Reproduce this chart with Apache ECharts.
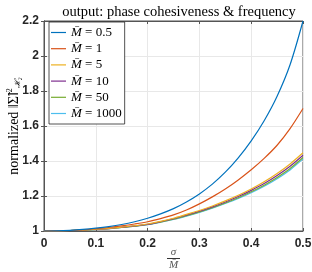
<!DOCTYPE html>
<html><head><meta charset="utf-8">
<script src="https://cdn.jsdelivr.net/npm/echarts@6/dist/echarts.min.js"></script>
<style>html,body{margin:0;padding:0;background:#fff}#c{width:312px;height:272px}</style>
</head><body><div id="c"></div>
<script>
var xs = [0,0.025,0.05,0.075,0.1,0.125,0.15,0.175,0.2,0.225,0.25,0.275,0.3,0.325,0.35,0.375,0.4,0.425,0.45,0.475,0.5];
var seriesNames = ['0.5','1','5','10','50','1000'];
var m05 = [1,1.001,1.004,1.009,1.016,1.025,1.037,1.053,1.073,1.098,1.128,1.166,1.212,1.268,1.336,1.418,1.515,1.63,1.77,1.95,2.2];
var m1 = [1,1.001,1.003,1.007,1.013,1.020,1.029,1.040,1.053,1.071,1.092,1.120,1.155,1.195,1.24,1.292,1.350,1.415,1.49,1.585,1.70];
var m5 = [1,1.001,1.003,1.006,1.010,1.015,1.022,1.030,1.040,1.055,1.073,1.095,1.117,1.143,1.172,1.204,1.240,1.281,1.328,1.383,1.447];
var m10 = [1,1.001,1.003,1.006,1.010,1.014,1.021,1.029,1.038,1.053,1.070,1.091,1.113,1.138,1.166,1.197,1.232,1.271,1.317,1.370,1.433];
var m50 = [1,1.001,1.003,1.005,1.009,1.014,1.020,1.028,1.037,1.051,1.067,1.087,1.109,1.133,1.160,1.190,1.224,1.262,1.306,1.357,1.420];
var m1000 = [1,1.001,1.003,1.005,1.009,1.013,1.020,1.027,1.036,1.050,1.066,1.085,1.106,1.130,1.157,1.186,1.219,1.256,1.299,1.349,1.412];
var xTicks = [0,0.1,0.2,0.3,0.4,0.5];
var yTicks = [1,1.2,1.4,1.6,1.8,2,2.2];
var colors = ['#0072BD','#D95319','#EDB120','#7E2F8E','#77AC30','#4DBEEE'];
var allY = [m05,m1,m5,m10,m50,m1000];

var chart = echarts.init(document.getElementById('c'), null, {renderer:'canvas'});
var axisCol = '#555';
var tickFont = {color:'#262626', fontFamily:'Liberation Sans', fontWeight:'bold', fontSize:12};
var series = allY.map(function(arr, i){
  return {
    name: seriesNames[i], type:'line', xAxisIndex:0, yAxisIndex:0,
    data: xs.map(function(x,j){return [x, arr[j]];}),
    symbol:'none', smooth:0.3, lineStyle:{width:1.2, color:colors[i]}, itemStyle:{color:colors[i]},
    z: 10 - i
  };
});
chart.setOption({
  animation:false,
  title:{text:'output: phase cohesiveness & frequency', left:174, textAlign:'center', top:0,
    textStyle:{fontFamily:'Liberation Serif', fontWeight:'normal', fontSize:14.5, color:'#000'}},
  grid:{left:44, right:9, top:21, bottom:41, show:true, borderColor:axisCol, borderWidth:1,
    containLabel:false, outerBoundsMode:'none'},
  legend:{left:49, top:22, orient:'vertical', itemWidth:15, itemHeight:12, itemGap:3.2,
    padding:[4,3,4,2], borderColor:'#262626', borderWidth:0.8, backgroundColor:'#fff',
    data: seriesNames, icon:'path://M0,0 L15,0 L15,1.2 L0,1.2 Z',
    formatter:function(n){return '{m|M\u0304} {t|= '+n+'}';},
    textStyle:{fontFamily:'Liberation Serif', fontSize:13, color:'#000',
      rich:{m:{fontFamily:'Liberation Serif', fontStyle:'italic', fontSize:13},
            t:{fontFamily:'Liberation Serif', fontSize:13}}}},
  xAxis:[{type:'value', min:0, max:0.5, interval:0.1, position:'bottom',
    axisLine:{show:true, lineStyle:{color:axisCol}},
    axisTick:{show:true, inside:true, length:3, lineStyle:{color:axisCol}},
    axisLabel:Object.assign({margin:7, formatter:function(v){return String(v);}}, tickFont),
    splitLine:{show:true, lineStyle:{color:'#e8e8e8', width:1}},
    name:'{n|\u03c3}\n{bar|}\n{d|M\u0304}', nameLocation:'middle', nameGap:17, nameMoveOverlap:false,
    nameTextStyle:{rich:{
      n:{fontFamily:'Liberation Serif', fontStyle:'italic', fontSize:11, lineHeight:9, align:'center'},
      bar:{width:13, height:0.8, backgroundColor:'#000', lineHeight:3},
      d:{fontFamily:'Liberation Serif', fontStyle:'italic', fontSize:11, lineHeight:10, align:'center'}}}},
   {type:'value', min:0, max:0.5, interval:0.1, position:'top',
    axisLine:{show:true, lineStyle:{color:axisCol}},
    axisTick:{show:true, inside:true, length:3, lineStyle:{color:axisCol}},
    axisLabel:{show:false}, splitLine:{show:false}}],
  yAxis:[{type:'value', min:1, max:2.2, interval:0.2, position:'left',
    axisLine:{show:true, lineStyle:{color:axisCol}},
    axisTick:{show:true, inside:true, length:3, lineStyle:{color:axisCol}},
    axisLabel:Object.assign({margin:5, formatter:function(v){return String(Math.round(v*10)/10);}}, tickFont),
    splitLine:{show:true, lineStyle:{color:'#e8e8e8', width:1}},
    name:'{t|normalized \u2016\u03a3\u0303\u2016}{sup|2}{sub|\u210b\u2082}', nameLocation:'middle', nameRotate:90, nameGap:22, nameMoveOverlap:false,
    nameTextStyle:{rich:{
      t:{fontFamily:'Liberation Serif', fontSize:14, color:'#000', lineHeight:16},
      sup:{fontFamily:'Liberation Serif', fontSize:8, verticalAlign:'top', color:'#000', lineHeight:16},
      sub:{fontFamily:'Liberation Serif', fontStyle:'italic', fontSize:8, verticalAlign:'bottom', color:'#000', lineHeight:16}}}},
   {type:'value', min:1, max:2.2, interval:0.2, position:'right',
    axisLine:{show:true, lineStyle:{color:axisCol}},
    axisTick:{show:true, inside:true, length:3, lineStyle:{color:axisCol}},
    axisLabel:{show:false}, splitLine:{show:false}}],
  series: series
});
</script></body></html>
